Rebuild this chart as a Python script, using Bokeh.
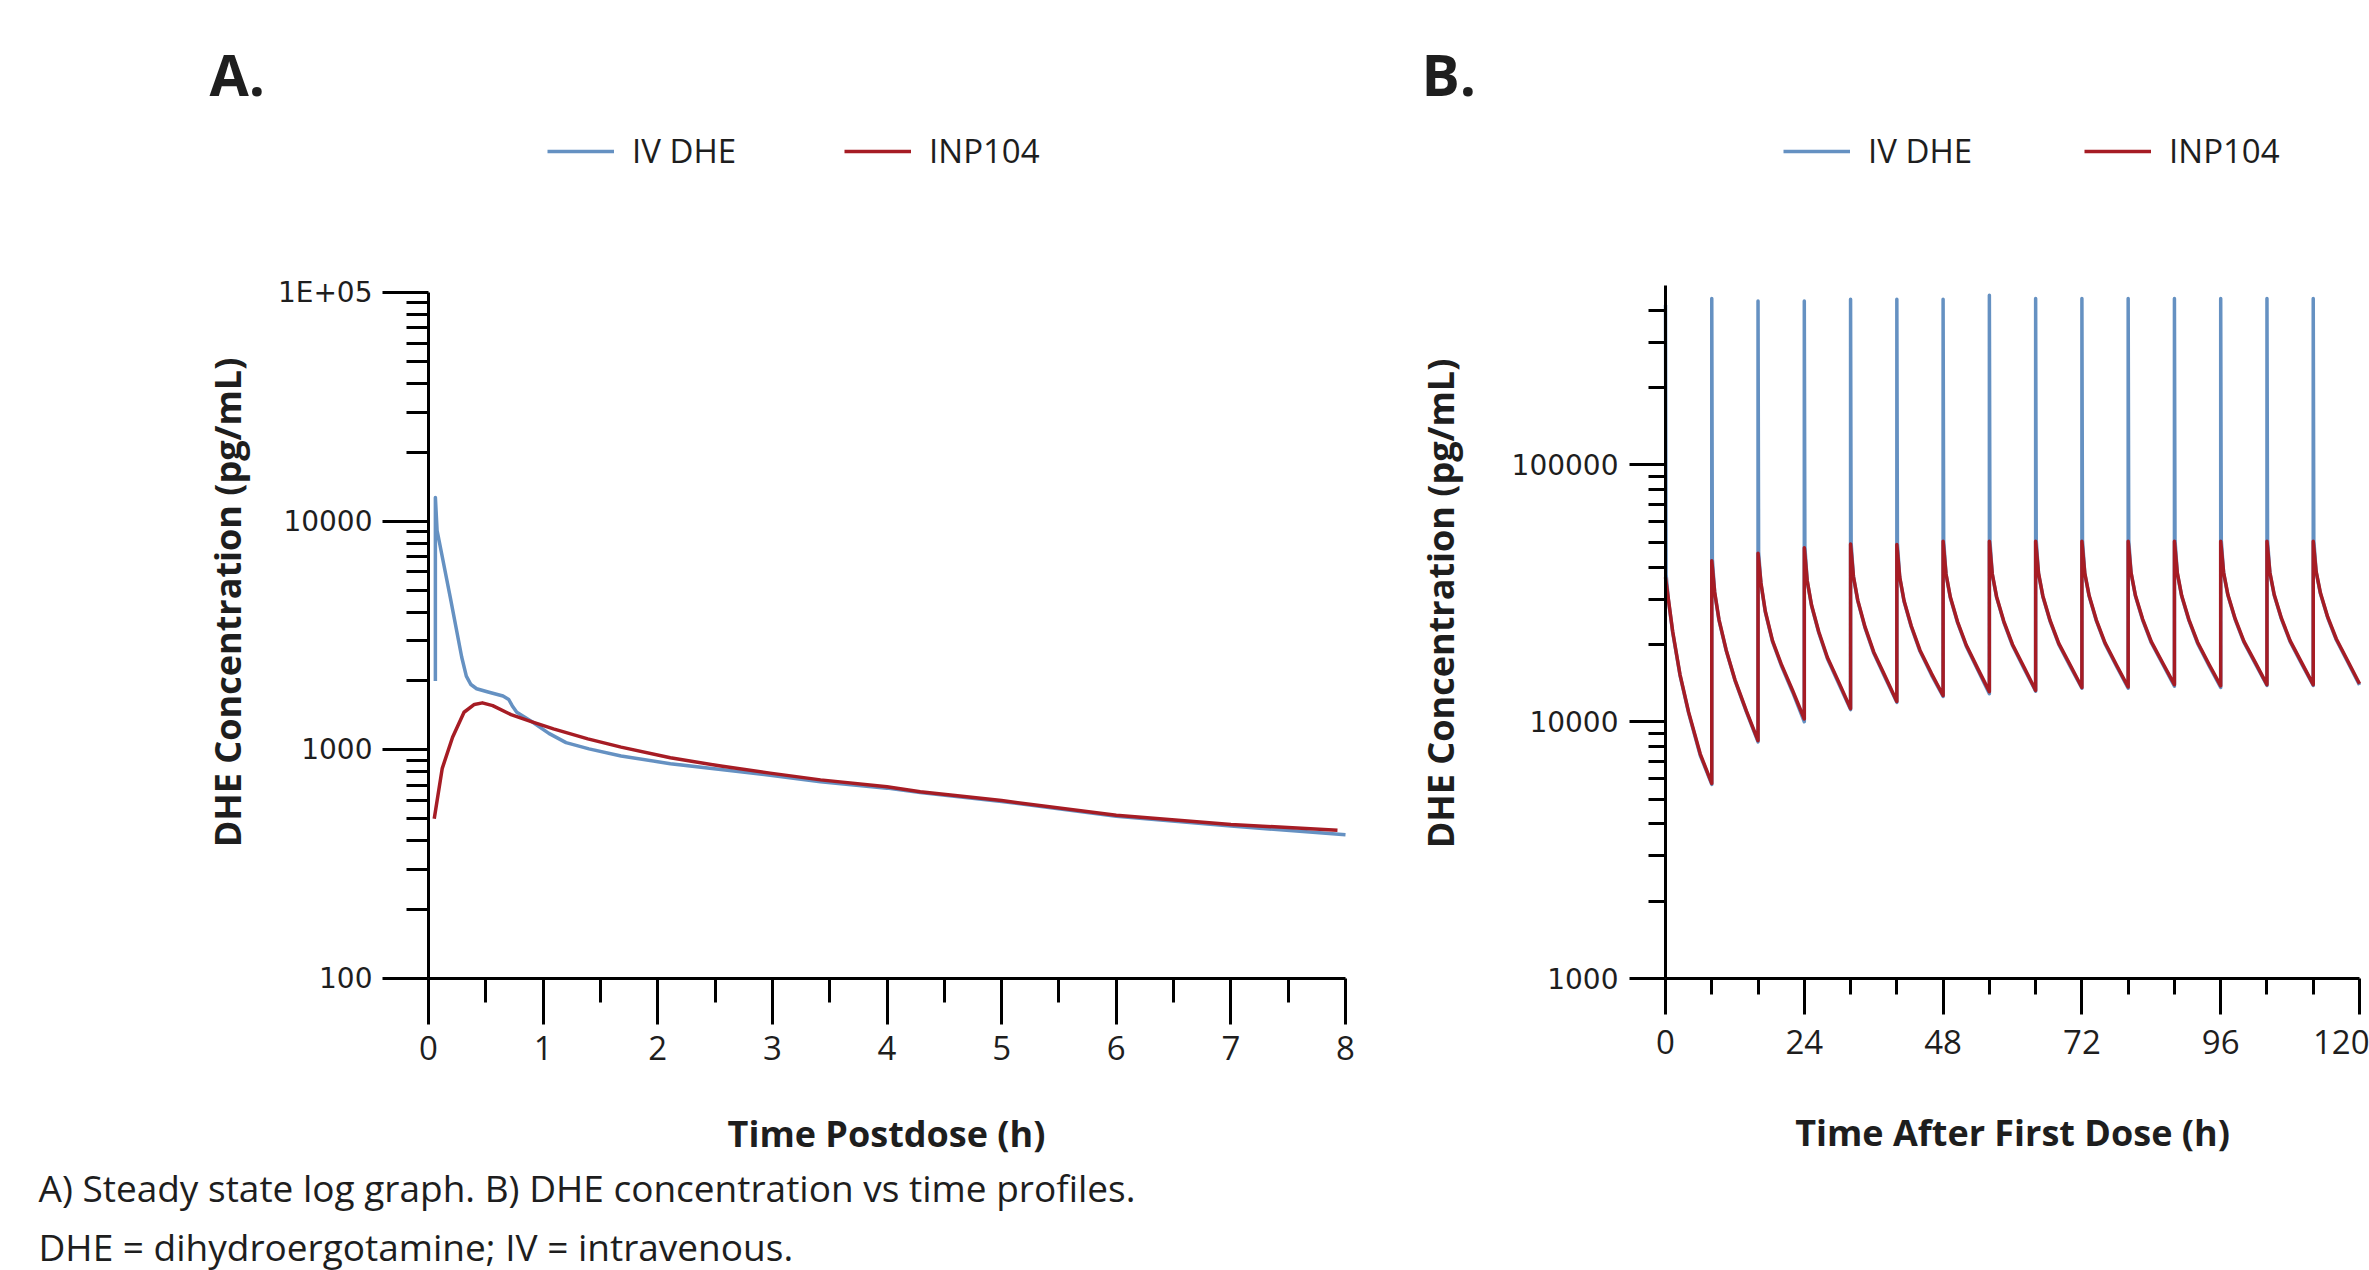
import math
from bokeh.plotting import figure
from bokeh.models import Range1d, FixedTicker, Label, Legend, LegendItem
from bokeh.layouts import row
from bokeh.embed import file_html
from bokeh.resources import INLINE

BLUE = "#6591C2"
RED = "#A61C24"
TXT = "#1E1E1E"

# ---------------- Panel A: steady state (0-8 h) ----------------
a_iv_time = [0.06, 0.06, 0.075, 0.19, 0.29, 0.33, 0.37, 0.42, 0.52, 0.65, 0.70, 0.73, 0.77,
             0.90, 1.05, 1.20, 1.40, 1.68, 2.11, 2.55, 2.98, 3.42, 4.0, 4.29, 5.0, 6.0, 7.0, 8.0]
a_iv_conc = [2000, 12700, 9100, 4640, 2540, 2100, 1930, 1850, 1790, 1720, 1660, 1560, 1460,
             1330, 1180, 1075, 1010, 940, 870, 820, 775, 725, 680, 650, 595, 512, 464, 425]
a_inp_time = [0.05, 0.12, 0.21, 0.31, 0.40, 0.47, 0.56, 0.72, 0.89, 1.09, 1.39, 1.68, 2.11,
              2.55, 2.98, 3.42, 4.0, 4.29, 5.0, 6.0, 7.0, 7.93]
a_inp_conc = [500, 830, 1135, 1460, 1580, 1605, 1560, 1425, 1333, 1235, 1117, 1028, 923,
              849, 791, 739, 690, 655, 600, 518, 472, 445]

a_x_major = [0, 1, 2, 3, 4, 5, 6, 7, 8]
a_x_minor = [0.5, 1.5, 2.5, 3.5, 4.5, 5.5, 6.5, 7.5]
a_y_major = [100, 1000, 10000, 100000]
a_y_labels = ["100", "1000", "10000", "1E+05"]
a_y_minor = [200, 300, 400, 500, 600, 700, 800, 900,
             2000, 3000, 4000, 5000, 6000, 7000, 8000, 9000,
             20000, 30000, 40000, 50000, 60000, 70000, 80000, 90000]

# ---------------- Panel B: repeated dosing (0-120 h) ----------------
b_dose_times = [0, 8, 16, 24, 32, 40, 48, 56, 64, 72, 80, 88, 96, 104, 112]
b_inp_offsets = [0, 0.5, 1.25, 2.5, 4, 6, 8]
b_inp_conc = [
    [36500, 30000, 22400, 15300, 10900, 7500, 5750],
    [42400, 32000, 25000, 19000, 14600, 11000, 8450],
    [45300, 34800, 27000, 20700, 16800, 13200, 10250],
    [47600, 35500, 28500, 22400, 17800, 14200, 11250],
    [49200, 36800, 29700, 23400, 18700, 15000, 12000],
    [49000, 36600, 29600, 23600, 19000, 15400, 12650],
    [50500, 37700, 30600, 24500, 19900, 16100, 13100],
    [50500, 37700, 30700, 24600, 20000, 16300, 13250],
    [50500, 37900, 30900, 24800, 20200, 16600, 13600],
    [50500, 37900, 31000, 24900, 20300, 16600, 13650],
    [50500, 38100, 31100, 25100, 20500, 16900, 13950],
    [50500, 38000, 31000, 25000, 20400, 16700, 13800],
    [50500, 38200, 31200, 25200, 20600, 17000, 13950],
    [50500, 38200, 31300, 25300, 20700, 17000, 13950],
    [50500, 38500, 31700, 25600, 21000, 17200, 14050],
]
b_iv_offsets = [0, 0.1, 0.5, 1.25, 2.5, 4, 6, 8]
b_iv_conc = [
    [420000, 37500, 29800, 22200, 15200, 10800, 7400, 5700],
    [445000, 43000, 31800, 24800, 18900, 14500, 10900, 8350],
    [435000, 45800, 34500, 26800, 20500, 16600, 13000, 10000],
    [435000, 48000, 35300, 28300, 22200, 17600, 14000, 11150],
    [442000, 49500, 36600, 29500, 23200, 18500, 14800, 11900],
    [442000, 49400, 36400, 29400, 23400, 18800, 15200, 12550],
    [442000, 50800, 37500, 30400, 24300, 19700, 15900, 12850],
    [458000, 50800, 37500, 30500, 24400, 19800, 16100, 13150],
    [445000, 50800, 37700, 30700, 24600, 20000, 16400, 13500],
    [445000, 50800, 37700, 30800, 24700, 20100, 16400, 13500],
    [445000, 50800, 37900, 30900, 24900, 20300, 16700, 13750],
    [445000, 50800, 37800, 30800, 24800, 20200, 16500, 13600],
    [445000, 50800, 38000, 31000, 25000, 20400, 16800, 13850],
    [445000, 50800, 38000, 31100, 25100, 20500, 16800, 13850],
    [445000, 50800, 38300, 31500, 25400, 20800, 17000, 13900],
]

b_x_major = [0, 24, 48, 72, 96, 120]
b_x_minor = [8, 16, 32, 40, 56, 64, 80, 88, 104, 112]
b_y_major = [1000, 10000, 100000]
b_y_labels = ["1000", "10000", "100000"]
b_y_minor = [2000, 3000, 4000, 5000, 6000, 7000, 8000, 9000,
             20000, 30000, 40000, 50000, 60000, 70000, 80000, 90000,
             200000, 300000, 400000]

series_names = ["IV DHE", "INP104"]
panel_letters = ["A.", "B."]
x_titles = ["Time Postdose (h)", "Time After First Dose (h)"]
y_title = "DHE Concentration (pg/mL)"
caption_lines = ["A) Steady state log graph. B) DHE concentration vs time profiles.",
                 "DHE = dihydroergotamine; IV = intravenous."]

H = 1270  # canvas height (px)


def expand(doses, offsets, table):
    ts, cs = [], []
    for d, vals in zip(doses, table):
        for o, v in zip(offsets, vals):
            ts.append(d + o)
            cs.append(v)
    return ts, cs


def make_panel(origin_x, width, xlim, ylim, box):
    """box = (left, right, top, bottom) page pixels of the data area."""
    left, right, top, bottom = box
    ox = origin_x
    xpx = (right - left) / (xlim[1] - xlim[0])
    x0 = xlim[0] - (left - ox) / xpx
    x1 = xlim[1] + (ox + width - right) / xpx
    ly0, ly1 = math.log10(ylim[0]), math.log10(ylim[1])
    ypx = (bottom - top) / (ly1 - ly0)
    yb = 10 ** (ly0 - (H - bottom) / ypx)
    yt = 10 ** (ly1 + top / ypx)
    p = figure(width=width, height=H, y_axis_type="log",
               x_range=Range1d(x0, x1), y_range=Range1d(yb, yt),
               output_backend="svg", toolbar_location=None, title=None,
               min_border=0)
    p.grid.visible = False
    p.outline_line_color = None
    p.xaxis[0].fixed_location = ylim[0]
    p.yaxis[0].fixed_location = xlim[0]
    p.xaxis[0].bounds = xlim
    p.yaxis[0].bounds = ylim
    return p


def style_axes(p, xt_major, xt_minor, yt_major, yt_minor, ylabels,
               x_tick_len, x_minor_len, y_tick_len, y_minor_len, y_standoff, x_standoff):
    xa = p.xaxis[0]
    ya = p.yaxis[0]
    xa.ticker = FixedTicker(ticks=xt_major, minor_ticks=xt_minor)
    ya.ticker = FixedTicker(ticks=yt_major, minor_ticks=yt_minor)
    ya.major_label_overrides = {v: s for v, s in zip(yt_major, ylabels)}
    for ax in (xa, ya):
        ax.axis_line_color = "black"
        ax.axis_line_width = 3
        ax.major_tick_line_color = "black"
        ax.minor_tick_line_color = "black"
        ax.major_tick_line_width = 3
        ax.minor_tick_line_width = 3
        ax.major_tick_in = 0
        ax.minor_tick_in = 0
        ax.major_label_text_color = TXT
    xa.major_tick_out = x_tick_len
    xa.minor_tick_out = x_minor_len
    ya.major_tick_out = y_tick_len
    ya.minor_tick_out = y_minor_len
    xa.major_label_text_font = "Open Sans"
    xa.major_label_text_font_size = "33px"
    xa.major_label_standoff = x_standoff
    ya.major_label_text_font = "DejaVu Sans"
    ya.major_label_text_font_size = "28px"
    ya.major_label_standoff = y_standoff


def add_text(p, ox, px, py, text, size, bold=False, angle=0.0, align="left"):
    p.add_layout(Label(x=px - ox, y=H - py, x_units="screen", y_units="screen", text=text,
                       text_font="Open Sans", text_font_size=size,
                       text_font_style="bold" if bold else "normal",
                       text_color=TXT, angle=angle, text_align=align,
                       text_baseline="middle"))


def add_legend(p, ox, r_iv, r_inp, px, py_center, spacing):
    h = 40
    leg = Legend(items=[LegendItem(label=series_names[0], renderers=[r_iv]),
                        LegendItem(label=series_names[1], renderers=[r_inp])],
                 location=(px - ox, H - py_center - h / 2), orientation="horizontal",
                 glyph_width=67, glyph_height=h, label_height=h,
                 label_standoff=18, spacing=spacing, padding=0, margin=0,
                 border_line_alpha=0, background_fill_alpha=0,
                 label_text_font="Open Sans", label_text_font_size="33px",
                 label_text_color=TXT)
    p.add_layout(leg)


# ---- Figure A ----
OXA, WA = 0, 1400
pA = make_panel(OXA, WA, (0, 8), (100, 100000), (428, 1345, 292, 978))
rA_iv = pA.line(a_iv_time, a_iv_conc, line_color=BLUE, line_width=3.5, line_join="round")
rA_inp = pA.line(a_inp_time, a_inp_conc, line_color=RED, line_width=3.5, line_join="round")
style_axes(pA, a_x_major, a_x_minor, a_y_major, a_y_minor, a_y_labels,
           46, 24, 46, 22, 10, 11)
add_legend(pA, OXA, rA_iv, rA_inp, 547, 153, 108)
add_text(pA, OXA, 209, 73, panel_letters[0], "57px", bold=True)
add_text(pA, OXA, 886, 1133, x_titles[0], "36px", bold=True, align="center")
add_text(pA, OXA, 227, 602, y_title, "36px", bold=True, angle=math.pi / 2, align="center")
add_text(pA, OXA, 38, 1187, caption_lines[0], "37px")
add_text(pA, OXA, 38, 1246, caption_lines[1], "37px")

# ---- Figure B ----
b_iv_t, b_iv_c = expand(b_dose_times, b_iv_offsets, b_iv_conc)
b_inp_t, b_inp_c = expand(b_dose_times, b_inp_offsets, b_inp_conc)

OXB, WB = 1400, 969
pB = make_panel(OXB, WB, (0, 120), (1000, 500000), (1665, 2359, 285, 978))
rB_iv = pB.line(b_iv_t, b_iv_c, line_color=BLUE, line_width=3.5, line_join="round")
rB_inp = pB.line(b_inp_t, b_inp_c, line_color=RED, line_width=3.5, line_join="round")
style_axes(pB, b_x_major, b_x_minor, b_y_major, b_y_minor, b_y_labels,
           36, 16, 36, 17, 11, 15)
add_legend(pB, OXB, rB_iv, rB_inp, 1783, 153, 112)
add_text(pB, OXB, 1421, 73, panel_letters[1], "57px", bold=True)
add_text(pB, OXB, 2012, 1132, x_titles[1], "36px", bold=True, align="center")
add_text(pB, OXB, 1440, 603, y_title, "36px", bold=True, angle=math.pi / 2, align="center")

layout = row(pA, pB)
open("out.html", "w").write(file_html(layout, INLINE))
